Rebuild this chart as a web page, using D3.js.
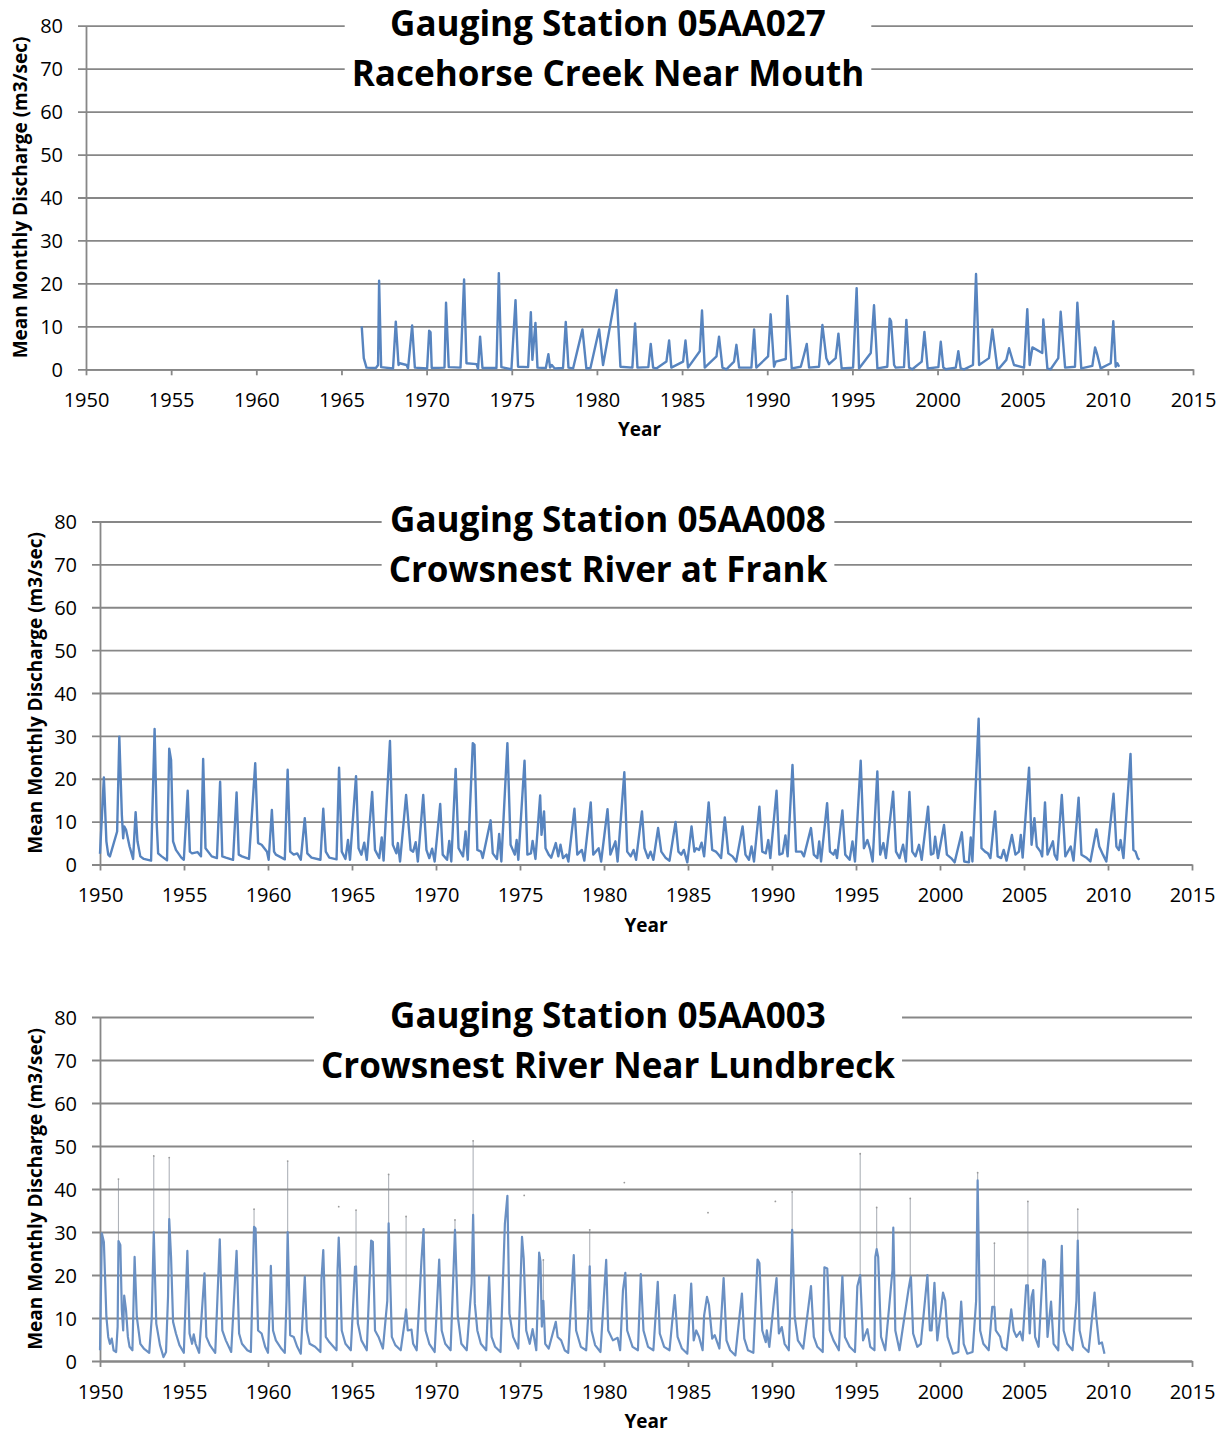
<!DOCTYPE html>
<html>
<head>
<meta charset="utf-8">
<script src="https://cdn.jsdelivr.net/npm/d3@7"></script>
<style>
  body { margin: 0; background: #fff; }
  svg text { font-family: "Open Sans", sans-serif; fill: #000; }
</style>
</head>
<body>
<svg id="chart" width="1227" height="1435"></svg>
<script>
// tick labels
const yearTicks = [1950, 1955, 1960, 1965, 1970, 1975, 1980, 1985, 1990, 1995, 2000, 2005, 2010, 2015]
const flowTicks = [0, 10, 20, 30, 40, 50, 60, 70, 80]

// titles
const stationIds = ['Gauging Station 05AA027', 'Gauging Station 05AA008', 'Gauging Station 05AA003']
const stationNames = ['Racehorse Creek Near Mouth', 'Crowsnest River at Frank', 'Crowsnest River Near Lundbreck']
const yTitle = 'Mean Monthly Discharge (m3/sec)'
const xTitle = 'Year'

// [decimal year, m3/sec]
const racehorseFlow = [
  [1966.19,10.0],[1966.31,2.6],[1966.47,0.4],[1967.02,0.3],[1967.15,1.0],[1967.21,20.6],[1967.33,0.5],
  [1968.03,0.2],[1968.19,11.1],[1968.35,1.0],[1968.42,1.4],[1968.82,1.0],[1968.91,0.2],
  [1969.15,10.2],[1969.31,0.4],[1970.03,0.2],[1970.15,9.0],[1970.23,8.6],[1970.3,0.3],
  [1971.05,0.4],[1971.14,15.5],[1971.3,0.5],[1971.99,0.4],[1972.2,20.9],[1972.34,1.4],[1972.93,1.2],
  [1973.02,0.1],[1973.14,7.6],[1973.28,0.3],[1974.1,0.3],[1974.24,22.4],[1974.39,0.5],[1974.98,0.0],
  [1975.22,16.1],[1975.37,0.6],[1975.96,0.5],[1976.12,13.3],[1976.21,2.2],[1976.39,10.8],[1976.51,0.4],
  [1977.0,0.3],[1977.15,3.5],[1977.25,0.4],[1977.35,1.0],[1977.52,0.2],[1978.01,0.3],[1978.17,11.0],
  [1978.33,0.4],[1978.6,0.2],[1979.15,9.3],[1979.38,0.2],[1979.62,0.3],[1980.13,9.3],[1980.36,1.0],
  [1981.15,18.5],[1981.38,0.6],[1982.08,0.4],[1982.24,10.7],[1982.38,0.4],[1983.02,0.5],[1983.16,5.9],
  [1983.3,0.4],[1983.49,0.2],[1984.08,1.8],[1984.24,6.7],[1984.37,0.4],[1985.06,1.8],[1985.2,6.7],
  [1985.35,0.4],[1986.04,4.2],[1986.17,13.7],[1986.33,0.4],[1987.02,3.0],[1987.17,7.6],[1987.37,0.4],
  [1987.6,0.0],[1988.05,1.8],[1988.19,5.7],[1988.35,0.4],[1989.07,0.4],[1989.23,9.3],[1989.36,0.4],
  [1990.05,3.0],[1990.2,12.8],[1990.4,0.6],[1990.5,1.8],[1991.09,2.4],[1991.18,17.1],[1991.44,0.2],
  [1991.97,0.6],[1992.16,3.4],[1992.32,5.9],[1992.46,0.4],[1993.04,0.6],[1993.24,10.3],[1993.47,2.6],
  [1993.63,1.2],[1994.02,2.6],[1994.18,8.3],[1994.37,0.2],[1995.04,0.4],[1995.25,18.9],[1995.39,0.2],
  [1996.08,3.8],[1996.27,14.9],[1996.47,0.2],[1997.05,0.6],[1997.19,11.8],[1997.27,11.2],[1997.45,1.0],
  [1997.54,0.4],[1998.03,0.5],[1998.17,11.5],[1998.33,0.4],[1998.52,0.0],[1999.07,1.8],[1999.23,8.7],
  [1999.42,0.2],[2000.05,0.5],[2000.19,6.4],[2000.34,0.4],[2000.48,0.0],[2001.07,0.4],[2001.22,4.2],
  [2001.36,0.2],[2001.56,0.0],[2002.08,1.0],[2002.26,22.2],[2002.44,1.0],[2003.02,2.6],[2003.22,9.3],
  [2003.51,0.2],[2003.61,0.2],[2004.04,2.2],[2004.2,4.9],[2004.49,1.0],[2005.08,0.4],[2005.27,14.0],
  [2005.41,1.0],[2005.57,5.1],[2006.15,3.8],[2006.21,11.6],[2006.45,0.2],[2006.64,0.0],[2007.09,2.6],
  [2007.23,13.4],[2007.49,0.4],[2008.07,0.6],[2008.21,15.5],[2008.44,0.2],[2009.09,0.8],[2009.25,5.1],
  [2009.38,3.4],[2009.58,0.2],[2010.17,1.4],[2010.32,11.2],[2010.46,0.6],[2010.56,1.4],[2010.66,0.6]
]

const frankFlow = [
  [1950.0,2.5],[1950.23,20.3],[1950.38,5.4],[1950.49,2.3],[1950.59,1.9],[1951.02,7.7],[1951.15,29.8],
  [1951.3,11.6],[1951.38,6.1],[1951.44,8.9],[1951.55,8.1],[1951.76,4.2],[1951.97,1.3],[1952.12,12.2],
  [1952.23,5.4],[1952.4,1.9],[1952.61,1.3],[1953.04,0.9],[1953.25,31.6],[1953.38,9.2],[1953.46,2.6],
  [1953.67,1.9],[1953.99,1.0],[1954.12,27.0],[1954.23,24.4],[1954.35,5.4],[1954.52,3.4],[1954.84,1.6],
  [1954.99,1.1],[1955.22,17.2],[1955.35,3.0],[1955.48,2.6],[1955.8,2.9],[1956.01,1.9],[1956.14,24.6],
  [1956.28,3.8],[1956.65,1.9],[1956.96,1.5],[1957.15,19.3],[1957.28,1.9],[1957.49,1.6],[1957.92,1.1],
  [1958.13,16.8],[1958.26,2.3],[1958.45,1.9],[1958.87,1.3],[1959.24,23.6],[1959.41,5.0],[1959.62,4.6],
  [1959.94,3.0],[1960.04,1.1],[1960.23,12.7],[1960.36,3.0],[1960.47,2.3],[1961.0,1.2],[1961.17,22.1],
  [1961.32,3.0],[1961.53,2.3],[1961.74,2.6],[1961.95,1.1],[1962.19,10.8],[1962.34,2.6],[1962.59,1.6],
  [1963.12,1.1],[1963.29,13.0],[1963.44,3.0],[1963.65,1.6],[1964.08,1.2],[1964.23,22.6],[1964.39,3.0],
  [1964.61,1.3],[1964.76,5.7],[1964.88,1.1],[1965.24,20.6],[1965.39,3.8],[1965.56,2.3],[1965.73,5.1],
  [1965.88,1.1],[1966.2,16.9],[1966.37,3.4],[1966.62,1.5],[1966.77,6.3],[1966.88,0.9],[1967.26,28.8],
  [1967.43,4.6],[1967.64,2.6],[1967.73,5.0],[1967.86,0.7],[1968.22,16.2],[1968.32,11.6],[1968.49,3.4],
  [1968.64,3.0],[1968.79,5.2],[1968.92,0.7],[1969.24,16.2],[1969.43,3.4],[1969.6,1.5],[1969.77,3.7],
  [1969.92,0.7],[1970.25,14.1],[1970.4,2.3],[1970.66,1.1],[1970.79,5.5],[1970.91,0.7],[1971.17,22.3],
  [1971.34,3.8],[1971.61,1.9],[1971.76,7.7],[1971.89,1.1],[1972.19,28.3],[1972.29,27.9],[1972.46,3.4],
  [1972.68,3.0],[1972.78,1.5],[1973.25,10.3],[1973.38,2.6],[1973.63,1.3],[1973.76,7.1],[1973.89,0.7],
  [1974.25,28.3],[1974.44,4.6],[1974.69,2.3],[1974.8,5.7],[1974.9,1.1],[1975.27,24.2],[1975.44,2.3],
  [1975.65,2.6],[1975.75,5.5],[1975.92,1.3],[1976.2,16.1],[1976.28,6.9],[1976.43,12.4],[1976.52,3.8],
  [1976.71,2.3],[1976.86,1.6],[1977.13,5.0],[1977.28,1.9],[1977.41,4.6],[1977.56,1.5],[1977.77,2.3],
  [1977.88,0.7],[1978.24,13.0],[1978.41,2.3],[1978.68,3.4],[1978.83,0.9],[1979.21,14.5],[1979.36,2.3],
  [1979.68,3.8],[1979.83,0.7],[1980.21,12.9],[1980.38,2.3],[1980.68,5.4],[1980.81,0.7],[1981.21,21.5],
  [1981.38,3.0],[1981.59,1.9],[1981.76,3.4],[1981.91,1.1],[1982.26,12.4],[1982.41,3.8],[1982.62,1.5],
  [1982.77,3.0],[1982.94,1.1],[1983.22,8.5],[1983.41,3.0],[1983.68,1.5],[1983.9,0.9],[1984.26,9.9],
  [1984.43,3.0],[1984.6,2.3],[1984.75,3.4],[1984.96,0.5],[1985.21,8.9],[1985.38,3.0],[1985.49,3.8],
  [1985.66,3.4],[1985.81,5.1],[1985.96,1.9],[1986.23,14.5],[1986.44,3.4],[1986.66,3.0],[1986.8,2.4],
  [1986.97,1.5],[1987.19,11.0],[1987.4,2.6],[1987.65,1.9],[1987.87,0.7],[1988.25,8.9],[1988.42,2.3],
  [1988.63,1.1],[1988.78,4.2],[1988.93,0.7],[1989.25,13.5],[1989.42,3.0],[1989.63,2.6],[1989.78,5.7],
  [1989.9,1.5],[1990.27,17.2],[1990.44,2.3],[1990.63,2.6],[1990.8,6.8],[1990.93,1.9],[1991.22,23.2],
  [1991.43,3.0],[1991.75,3.0],[1991.9,1.9],[1992.32,8.5],[1992.49,2.3],[1992.7,1.5],[1992.81,5.4],
  [1992.92,0.7],[1993.28,14.3],[1993.45,3.0],[1993.66,2.3],[1993.77,3.4],[1993.87,1.5],[1994.19,12.6],
  [1994.36,2.3],[1994.62,1.1],[1994.79,5.4],[1994.94,0.7],[1995.28,24.2],[1995.47,3.8],[1995.68,5.7],
  [1995.85,3.4],[1995.99,0.7],[1996.27,21.7],[1996.44,2.3],[1996.63,5.0],[1996.78,1.5],[1997.21,17.0],
  [1997.38,3.0],[1997.59,1.5],[1997.8,4.6],[1997.97,0.7],[1998.18,16.9],[1998.35,3.0],[1998.54,1.9],
  [1998.75,4.6],[1998.91,1.1],[1999.29,13.5],[1999.46,2.3],[1999.61,2.6],[1999.71,6.5],[1999.88,1.5],
  [2000.24,9.2],[2000.41,2.3],[2000.66,1.5],[2000.87,0.5],[2001.3,7.5],[2001.44,0.7],[2001.72,0.5],
  [2001.83,6.3],[2001.93,0.7],[2002.3,34.0],[2002.47,3.8],[2002.68,3.0],[2002.85,2.6],[2003.0,1.5],
  [2003.28,12.4],[2003.43,1.9],[2003.64,1.5],[2003.79,3.4],[2003.96,0.9],[2004.28,6.9],[2004.49,2.3],
  [2004.7,3.0],[2004.81,6.9],[2004.92,1.6],[2005.3,22.6],[2005.45,4.6],[2005.62,10.8],[2005.76,4.2],
  [2005.98,3.0],[2006.08,1.9],[2006.25,14.5],[2006.4,2.3],[2006.72,5.4],[2006.82,2.3],[2006.97,1.1],
  [2007.25,16.2],[2007.46,1.9],[2007.78,4.2],[2007.95,0.9],[2008.25,15.6],[2008.42,2.3],[2008.74,1.5],
  [2008.95,0.7],[2009.31,8.2],[2009.48,4.2],[2009.7,2.3],[2009.9,0.7],[2010.33,16.5],[2010.5,4.2],
  [2010.65,3.4],[2010.75,5.7],[2010.92,1.5],[2011.34,25.8],[2011.51,3.4],[2011.64,3.0],[2011.77,1.5],
  [2011.87,1.1]
]

const lundbreckFlow = [
  [1950.0,2.5],[1950.11,29.7],[1950.23,27.7],[1950.38,10.3],[1950.49,5.6],[1950.59,4.0],[1950.7,5.2],
  [1950.81,2.5],[1950.96,2.1],[1951.05,8.0],[1951.1,27.9],[1951.21,27.0],[1951.3,11.8],[1951.38,7.1],
  [1951.44,15.2],[1951.55,11.8],[1951.66,5.6],[1951.76,3.3],[1951.93,2.5],[1952.06,24.2],[1952.19,10.3],
  [1952.4,4.0],[1952.61,2.9],[1952.93,1.9],[1953.08,10.0],[1953.2,30.0],[1953.35,8.7],[1953.57,3.7],
  [1953.78,0.9],[1953.93,2.1],[1954.05,15.0],[1954.12,33.0],[1954.23,24.1],[1954.35,9.1],[1954.52,6.4],
  [1954.73,3.7],[1954.99,1.9],[1955.2,25.6],[1955.33,6.4],[1955.48,4.0],[1955.58,6.2],[1955.69,4.0],
  [1955.9,1.9],[1956.07,11.8],[1956.22,20.4],[1956.33,5.6],[1956.54,3.7],[1956.86,1.9],[1957.13,28.3],
  [1957.28,7.1],[1957.49,4.8],[1957.81,2.1],[1958.13,25.6],[1958.28,6.4],[1958.45,4.0],[1958.77,2.5],
  [1958.98,2.1],[1959.17,31.2],[1959.26,30.8],[1959.41,7.1],[1959.62,6.4],[1959.83,3.3],[1960.0,1.9],
  [1960.11,13.4],[1960.17,22.1],[1960.3,7.1],[1960.47,4.8],[1960.79,2.9],[1961.0,1.9],[1961.1,14.0],
  [1961.17,30.0],[1961.32,6.0],[1961.53,5.6],[1961.74,3.3],[1961.95,1.7],[1962.19,19.6],[1962.31,7.1],
  [1962.48,4.0],[1962.8,3.3],[1963.12,2.1],[1963.18,18.8],[1963.29,25.8],[1963.44,5.6],[1963.65,4.4],
  [1964.08,2.5],[1964.14,21.1],[1964.21,28.7],[1964.29,21.1],[1964.39,7.1],[1964.61,4.0],[1964.93,2.5],
  [1965.18,21.9],[1965.24,22.0],[1965.35,8.7],[1965.56,4.8],[1965.88,2.5],[1966.14,28.0],[1966.24,27.7],
  [1966.37,7.1],[1966.58,5.6],[1966.84,2.9],[1967.1,14.0],[1967.18,32.0],[1967.37,5.6],[1967.58,3.7],
  [1967.9,2.5],[1968.15,9.5],[1968.22,12.0],[1968.32,7.1],[1968.54,7.3],[1968.64,4.0],[1968.85,2.5],
  [1969.13,23.1],[1969.26,30.7],[1969.38,7.1],[1969.6,4.0],[1969.92,2.1],[1970.19,23.6],[1970.34,7.1],
  [1970.55,4.0],[1970.87,2.5],[1971.13,30.5],[1971.3,10.3],[1971.51,4.0],[1971.83,2.5],[1972.12,18.0],
  [1972.21,34.0],[1972.31,13.4],[1972.46,7.1],[1972.67,4.0],[1972.99,2.5],[1973.16,19.6],[1973.31,5.6],
  [1973.52,3.3],[1973.84,2.1],[1974.1,31.9],[1974.25,38.4],[1974.37,11.0],[1974.59,5.6],[1974.9,2.9],
  [1975.12,28.9],[1975.22,23.9],[1975.37,7.1],[1975.58,4.0],[1975.75,7.4],[1975.97,2.5],[1976.14,25.2],
  [1976.22,23.1],[1976.3,8.0],[1976.39,14.0],[1976.5,4.0],[1976.71,2.9],[1977.13,9.1],[1977.24,5.6],
  [1977.45,4.8],[1977.66,2.5],[1977.87,1.9],[1978.2,24.6],[1978.34,7.1],[1978.62,3.3],[1978.94,2.5],
  [1979.08,12.0],[1979.15,22.0],[1979.26,7.1],[1979.47,3.7],[1979.79,2.1],[1980.13,23.5],[1980.25,7.1],
  [1980.53,4.8],[1980.81,5.4],[1980.96,2.5],[1981.13,16.5],[1981.27,20.5],[1981.38,7.1],[1981.7,3.3],
  [1982.02,2.5],[1982.19,20.2],[1982.35,7.1],[1982.62,3.3],[1982.94,2.5],[1983.2,18.4],[1983.32,6.4],
  [1983.58,3.3],[1983.9,2.5],[1984.21,15.3],[1984.38,5.6],[1984.64,2.9],[1984.96,1.7],[1985.19,18.0],
  [1985.34,4.8],[1985.49,7.1],[1985.66,5.6],[1985.87,2.5],[1985.96,10.6],[1986.13,14.9],[1986.25,13.0],
  [1986.44,5.2],[1986.59,6.0],[1986.87,2.9],[1987.12,19.3],[1987.29,4.8],[1987.51,2.5],[1987.82,1.3],
  [1988.21,15.7],[1988.35,5.2],[1988.57,2.5],[1988.89,1.9],[1989.14,23.6],[1989.25,22.8],[1989.42,7.1],
  [1989.63,4.4],[1989.69,7.1],[1989.84,3.3],[1990.12,14.1],[1990.27,19.3],[1990.41,6.4],[1990.58,7.9],
  [1990.75,4.0],[1991.0,2.5],[1991.1,14.0],[1991.2,30.5],[1991.35,10.3],[1991.54,4.8],[1991.86,2.9],
  [1992.32,17.4],[1992.49,5.6],[1992.7,3.3],[1993.02,2.1],[1993.12,21.8],[1993.29,21.5],[1993.44,7.1],
  [1993.66,4.8],[1993.98,2.5],[1994.19,19.7],[1994.34,5.6],[1994.62,3.3],[1994.94,2.1],[1995.08,17.4],
  [1995.25,20.0],[1995.42,4.8],[1995.68,7.4],[1995.85,3.3],[1996.1,2.5],[1996.15,24.2],[1996.23,26.0],
  [1996.32,24.2],[1996.49,5.6],[1996.74,2.5],[1997.17,21.1],[1997.22,31.0],[1997.34,7.1],[1997.59,2.5],
  [1998.12,16.5],[1998.23,19.0],[1998.27,19.6],[1998.4,6.4],[1998.65,3.3],[1998.86,4.0],[1999.25,20.0],
  [1999.4,7.1],[1999.5,7.1],[1999.67,18.2],[1999.84,4.8],[2000.18,15.9],[2000.31,14.1],[2000.45,5.6],
  [2000.77,1.7],[2001.09,2.1],[2001.26,13.8],[2001.41,4.0],[2001.62,1.7],[2001.94,2.1],[2002.15,14.0],
  [2002.24,42.0],[2002.39,7.1],[2002.58,4.0],[2002.9,2.5],[2003.11,12.6],[2003.24,12.6],[2003.32,7.1],
  [2003.58,5.6],[2003.7,3.3],[2003.96,2.5],[2004.24,12.0],[2004.39,7.1],[2004.55,5.6],[2004.77,6.8],
  [2004.92,4.8],[2005.13,17.6],[2005.23,17.6],[2005.34,6.4],[2005.45,14.9],[2005.55,16.5],[2005.66,5.6],
  [2005.87,3.3],[2006.15,23.6],[2006.25,23.1],[2006.4,5.6],[2006.61,13.8],[2006.76,4.0],[2007.04,2.5],
  [2007.25,26.8],[2007.36,7.1],[2007.57,4.0],[2007.89,2.5],[2008.12,14.0],[2008.2,28.0],[2008.31,7.1],
  [2008.52,3.3],[2008.84,2.1],[2009.2,15.9],[2009.3,10.3],[2009.47,4.0],[2009.64,4.3],[2009.79,1.7]
]

// short daily peaks that show as faint spikes above the monthly line: [year, from, to]
const lundbreckSpikes = [
  [1951.1,27.9,42.3],[1953.2,30.0,47.7],[1954.12,33.0,47.3],[1959.17,31.2,35.3],[1961.17,30.0,46.5],
  [1965.24,22.0,35.1],[1967.18,32.0,43.4],[1968.22,12.0,33.6],[1971.13,30.5,32.8],[1972.21,34.0,51.2],
  [1976.39,14.0,23.5],[1979.15,22.0,30.5],[1991.2,30.5,39.3],[1995.25,20.0,48.2],[1996.23,26.0,35.7],
  [1998.23,19.0,37.8],[2002.24,42.0,43.8],[2003.24,12.6,27.4],[2005.23,17.6,37.1],[2008.2,28.0,35.3]
]
// isolated daily peaks where only the tip is visible: [year, value]
const lundbreckTips = [
  [1964.21,35.9],[1975.25,38.5],[1981.21,41.5],[1986.19,34.5],[1990.2,37.1]
]

const panels = [
  { top: 25.7, bottom: 369.3, left: 86, right: 1193, titleX: 20, flow: racehorseFlow, color: '#5784bf', width: 2.4 },
  { top: 521.5, bottom: 864.5, left: 100, right: 1192, titleX: 35, flow: frankFlow, color: '#5784bf', width: 2.4 },
  { top: 1017, bottom: 1361, left: 100, right: 1192, titleX: 35, flow: lundbreckFlow, color: '#6a90c3', width: 2.2 }
]

const svg = d3.select('#chart')
const gridColor = '#878787'

function drawPanel (p, i) {
  const x = d3.scaleLinear().domain([1950, 2015]).range([p.left, p.right])
  const y = d3.scaleLinear().domain([0, 80]).range([p.bottom, p.top])
  const g = svg.append('g')

  // y axis: labels + gridlines
  const yAxis = g.append('g')
    .attr('transform', 'translate(' + p.left + ',0)')
    .call(d3.axisLeft(y).tickValues(flowTicks).tickSizeOuter(0).tickSizeInner(8).tickPadding(15))
  yAxis.attr('font-size', 20).attr('font-family', null)
  yAxis.selectAll('.tick line')
    .attr('x1', -8)
    .attr('x2', p.right - p.left)
    .attr('stroke', gridColor)
    .attr('stroke-width', 1.8)
  yAxis.select('.domain').attr('stroke', gridColor).attr('stroke-width', 1.8)
  yAxis.selectAll('.tick text').attr('dy', '0.36em')

  // x axis
  const xAxis = g.append('g')
    .attr('transform', 'translate(0,' + p.bottom + ')')
    .call(d3.axisBottom(x).tickValues(yearTicks).tickFormat(d3.format('d')).tickSizeOuter(0).tickSizeInner(6))
  xAxis.attr('font-size', 20).attr('font-family', null)
  xAxis.selectAll('.tick line').attr('stroke', gridColor).attr('stroke-width', 1.8)
  xAxis.select('.domain').attr('stroke', gridColor).attr('stroke-width', 1.8)
  xAxis.selectAll('.tick text').attr('y', 37.5).attr('dy', 0)

  // axis titles
  g.append('text')
    .attr('transform', 'translate(' + p.titleX + ',' + (p.top + p.bottom) / 2 + ') rotate(-90)')
    .attr('text-anchor', 'middle')
    .attr('dy', '0.36em')
    .style('font-size', '19px')
    .style('font-weight', 'bold')
    .text(yTitle)

  g.append('text')
    .attr('x', (p.left + p.right) / 2)
    .attr('y', p.bottom + 67)
    .attr('text-anchor', 'middle')
    .style('font-size', '19px')
    .style('font-weight', 'bold')
    .text(xTitle)

  // faint daily spikes (only Lundbreck)
  if (i === 2) {
    g.selectAll('.spike')
      .data(lundbreckSpikes)
      .enter()
      .append('line')
      .attr('class', 'spike')
      .attr('x1', d => x(d[0]))
      .attr('x2', d => x(d[0]))
      .attr('y1', d => y(d[1]))
      .attr('y2', d => y(d[2]))
      .attr('stroke', '#858b95')
      .attr('stroke-width', 1.1)
      .attr('opacity', 0.65)
    g.selectAll('.tip')
      .data(lundbreckSpikes.map(d => [d[0], d[2]]).concat(lundbreckTips))
      .enter()
      .append('circle')
      .attr('class', 'tip')
      .attr('cx', d => x(d[0]))
      .attr('cy', d => y(d[1]))
      .attr('r', 0.9)
      .attr('fill', '#9a9a9a')
  }

  // the flow line
  const line = d3.line()
    .x(d => x(d[0]))
    .y(d => y(d[1]))
  g.append('path')
    .attr('d', line(p.flow))
    .attr('fill', 'none')
    .attr('stroke', p.color)
    .attr('stroke-width', p.width)
    .attr('stroke-linejoin', 'round')

  // title with white box over the gridlines
  const titleG = g.append('g')
  const box = titleG.append('rect').attr('fill', '#fff')
  const t1 = titleG.append('text')
    .attr('x', 608)
    .attr('text-anchor', 'middle')
    .style('font-weight', 'bold')
    .text(stationIds[i])
  const t2 = titleG.append('text')
    .attr('x', 608)
    .attr('text-anchor', 'middle')
    .style('font-weight', 'bold')
    .text(stationNames[i])

  // fit font to the width the first title line has in the picture
  t1.style('font-size', '40px')
  const fs = 40 * 436 / t1.node().getComputedTextLength()
  t1.style('font-size', fs + 'px').attr('y', p.top - 2 + fs * 0.36)
  t2.style('font-size', fs + 'px').attr('y', p.top + 48 + fs * 0.36)

  const w = Math.max(t1.node().getComputedTextLength(), t2.node().getComputedTextLength())
  box.attr('x', 608 - w / 2 - 7)
    .attr('width', w + 14)
    .attr('y', p.top - 26)
    .attr('height', 95)
}

panels.forEach(drawPanel)
</script>
</body>
</html>
